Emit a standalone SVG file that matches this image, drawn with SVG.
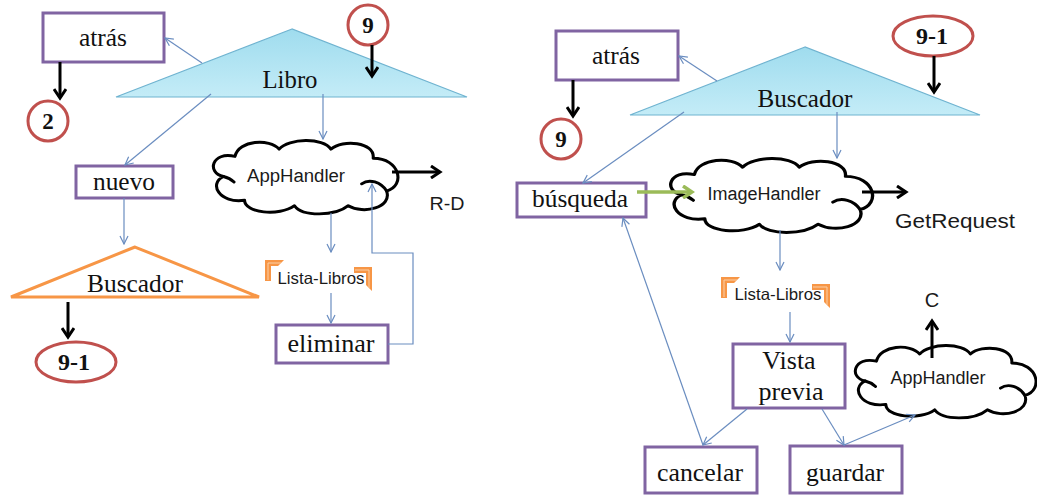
<svg xmlns="http://www.w3.org/2000/svg" width="1037" height="495" viewBox="0 0 1037 495">
  <defs>
    <style>
      .box { fill: #ffffff; stroke: #8064a2; stroke-width: 3; }
      .ring { fill: #ffffff; stroke: #c0504d; stroke-width: 3; }
      .tri { fill: url(#triFill); stroke: #6fb3d0; stroke-width: 1.2; }
      .tri-o { fill: #ffffff; stroke: #f79646; stroke-width: 3; stroke-linejoin: miter; }
      .cloud { fill: #ffffff; stroke: #000000; stroke-width: 3.2; stroke-linejoin: round; }
      .curl { fill: none; stroke: #000000; stroke-width: 3.2; stroke-linecap: round; }
      .br { fill: #f79646; }
      .br-line { fill: none; stroke: #fbd0a8; stroke-width: 1; }
      .thin { fill: none; stroke: #6a8dc0; stroke-width: 1.2; marker-end: url(#ah-thin); }
      .bold { fill: none; stroke: #000000; stroke-width: 3; marker-end: url(#ah-bold); }
      .green { fill: none; stroke: #9bbb59; stroke-width: 3.5; marker-end: url(#ah-green); }
      .serif { font-family: "Liberation Serif", "Times New Roman", serif; font-size: 26px; fill: #111111; text-anchor: middle; }
      .num { font-family: "Liberation Serif", "Times New Roman", serif; font-size: 23px; font-weight: bold; fill: #111111; text-anchor: middle; }
      .sans { font-family: "Liberation Sans", Arial, sans-serif; fill: #1a1a1a; text-anchor: middle; }
    </style>
    <linearGradient id="triFill" x1="0" y1="0" x2="0" y2="1">
      <stop offset="0" stop-color="#9fdcee"/>
      <stop offset="1" stop-color="#c4ecf7"/>
    </linearGradient>
    <marker id="ah-thin" viewBox="0 0 10 10" refX="9" refY="5" markerWidth="10" markerHeight="10" markerUnits="userSpaceOnUse" orient="auto">
      <path d="M1,1 L9,5 L1,9" fill="none" stroke="#6a8dc0" stroke-width="1.2"/>
    </marker>
    <marker id="ah-bold" viewBox="0 0 14 14" refX="11" refY="7" markerWidth="14" markerHeight="14" markerUnits="userSpaceOnUse" orient="auto">
      <path d="M2,1 L11,7 L2,13" fill="none" stroke="#000000" stroke-width="3"/>
    </marker>
    <marker id="ah-green" viewBox="0 0 14 14" refX="11" refY="7" markerWidth="14" markerHeight="14" markerUnits="userSpaceOnUse" orient="auto">
      <path d="M2,1 L11,7 L2,13" fill="none" stroke="#9bbb59" stroke-width="3.5"/>
    </marker>
    <!-- cloud outline in a 200 x 80 unit box -->
    <path id="cloudShape" d="M14,40 C-4,36 2,12 26,18 C30,0 62,-2 72,10 C82,-2 118,-3 126,10 C138,-1 172,2 170,20 C198,20 204,50 184,56 C190,74 160,82 144,72 C130,84 96,84 88,72 C72,84 36,80 36,66 C10,70 -2,48 14,40 Z"/>
    <path id="cloudCurls" d="M14,40 C18,41 22,43 25,46 M158,48 C166,42 178,46 184,56"/>
    <!-- orange corner brackets -->
    <g id="brTL">
      <polygon class="br" points="0,21 0,0 19,0 13,6 6,6 6,21"/>
      <polyline class="br-line" points="3,20 3,3 16,3"/>
    </g>
    <g id="brBR">
      <polygon class="br" points="0,0 18,0 18,24 12,18 12,6 0,6"/>
      <polyline class="br-line" points="1,3 15,3 15,21"/>
    </g>
  </defs>

  <rect width="1037" height="495" fill="#ffffff"/>

  <!-- ===== left flow: Libro ===== -->
  <g id="atras-1">
    <rect class="box" x="43" y="13" width="121" height="49"/>
    <text class="serif" x="103" y="46" textLength="48" lengthAdjust="spacingAndGlyphs">atrás</text>
  </g>
  <g id="ref-9-top">
    <circle class="ring" cx="368" cy="25" r="20"/>
    <text class="num" x="368" y="33">9</text>
  </g>
  <g id="libro">
    <polygon class="tri" points="292,29 116,97 467,97"/>
    <text class="serif" x="290" y="88" textLength="55" lengthAdjust="spacingAndGlyphs">Libro</text>
  </g>
  <g id="ref-2">
    <circle class="ring" cx="48" cy="121" r="20"/>
    <text class="num" x="48" y="129">2</text>
  </g>
  <g id="nuevo">
    <rect class="box" x="76" y="166" width="97" height="32"/>
    <text class="serif" x="124" y="190" textLength="62" lengthAdjust="spacingAndGlyphs">nuevo</text>
  </g>
  <g id="apphandler-1">
    <g transform="translate(210,140) scale(0.96,0.9125)">
      <use href="#cloudShape" class="cloud"/>
      <use href="#cloudCurls" class="curl"/>
    </g>
    <text class="sans" x="296" y="182" font-size="18" textLength="98" lengthAdjust="spacingAndGlyphs">AppHandler</text>
  </g>
  <g id="rd-label">
    <text class="sans" x="447" y="210" font-size="19" textLength="35" lengthAdjust="spacingAndGlyphs">R-D</text>
  </g>
  <g id="buscador-1">
    <polygon class="tri-o" points="135,247 11,297 259,297"/>
    <text class="serif" x="135" y="292" textLength="96" lengthAdjust="spacingAndGlyphs">Buscador</text>
  </g>
  <g id="lista-1">
    <text class="sans" x="321" y="284" font-size="16.5" textLength="87" lengthAdjust="spacingAndGlyphs">Lista-Libros</text>
    <use href="#brTL" transform="translate(265,260)"/>
    <use href="#brBR" transform="translate(354,267)"/>
  </g>
  <g id="eliminar">
    <rect class="box" x="276" y="325" width="112" height="38"/>
    <text class="serif" x="331" y="352" textLength="87" lengthAdjust="spacingAndGlyphs">eliminar</text>
  </g>
  <g id="ref-9-1-bottom">
    <ellipse class="ring" cx="76" cy="362" rx="40" ry="20"/>
    <text class="num" x="74" y="370" textLength="32" lengthAdjust="spacingAndGlyphs">9-1</text>
  </g>

  <!-- ===== right flow: Buscador ===== -->
  <g id="atras-2">
    <rect class="box" x="556" y="31" width="122" height="49"/>
    <text class="serif" x="616" y="64" textLength="48" lengthAdjust="spacingAndGlyphs">atrás</text>
  </g>
  <g id="ref-9-left">
    <circle class="ring" cx="561" cy="139" r="20"/>
    <text class="num" x="561" y="147">9</text>
  </g>
  <g id="ref-9-1-top">
    <ellipse class="ring" cx="933" cy="36" rx="40" ry="20"/>
    <text class="num" x="932" y="44" textLength="32" lengthAdjust="spacingAndGlyphs">9-1</text>
  </g>
  <g id="buscador-2">
    <polygon class="tri" points="805,47 630,115 980,115"/>
    <text class="serif" x="805" y="107" textLength="95" lengthAdjust="spacingAndGlyphs">Buscador</text>
  </g>
  <g id="busqueda">
    <rect class="box" x="517" y="183" width="129" height="34"/>
    <text class="serif" x="580" y="207" textLength="96" lengthAdjust="spacingAndGlyphs">búsqueda</text>
  </g>
  <g id="imagehandler">
    <g transform="translate(667,158) scale(1.05,0.92)">
      <use href="#cloudShape" class="cloud"/>
      <use href="#cloudCurls" class="curl"/>
    </g>
    <text class="sans" x="764" y="200" font-size="18" textLength="113" lengthAdjust="spacingAndGlyphs">ImageHandler</text>
  </g>
  <g id="getrequest-label">
    <text class="sans" x="955" y="228" font-size="20" textLength="120" lengthAdjust="spacingAndGlyphs">GetRequest</text>
  </g>
  <g id="lista-2">
    <text class="sans" x="778" y="300" font-size="16.5" textLength="87" lengthAdjust="spacingAndGlyphs">Lista-Libros</text>
    <use href="#brTL" transform="translate(721,277)"/>
    <use href="#brBR" transform="translate(812,284)"/>
  </g>
  <g id="vista-previa">
    <rect class="box" x="733" y="344" width="112" height="64"/>
    <text class="serif" x="789" y="369">Vista</text>
    <text class="serif" x="791" y="400">previa</text>
  </g>
  <g id="apphandler-2">
    <g transform="translate(852,345) scale(0.94,0.9)">
      <use href="#cloudShape" class="cloud"/>
      <use href="#cloudCurls" class="curl"/>
    </g>
    <text class="sans" x="938" y="384" font-size="18" textLength="95" lengthAdjust="spacingAndGlyphs">AppHandler</text>
  </g>
  <g id="c-label">
    <text class="sans" x="932" y="307" font-size="20">C</text>
  </g>
  <g id="cancelar">
    <rect class="box" x="645" y="447" width="112" height="46"/>
    <text class="serif" x="700" y="481" textLength="86" lengthAdjust="spacingAndGlyphs">cancelar</text>
  </g>
  <g id="guardar">
    <rect class="box" x="790" y="446" width="112" height="47"/>
    <text class="serif" x="845" y="481" textLength="78" lengthAdjust="spacingAndGlyphs">guardar</text>
  </g>

  <!-- ===== connectors ===== -->
  <g id="connectors">
    <!-- left flow -->
    <line class="thin" x1="202" y1="63" x2="165" y2="38"/>
    <line class="thin" x1="211" y1="94" x2="125" y2="165"/>
    <line class="thin" x1="323" y1="94" x2="323" y2="139"/>
    <line class="thin" x1="124" y1="198" x2="124" y2="244"/>
    <line class="thin" x1="331" y1="213" x2="331" y2="252"/>
    <line class="thin" x1="331" y1="293" x2="331" y2="323"/>
    <polyline class="thin" points="388,344 413,344 413,253 372,253 372,184"/>
    <line class="bold" x1="372" y1="45" x2="372" y2="76"/>
    <line class="bold" x1="60" y1="62" x2="60" y2="98"/>
    <line class="bold" x1="392" y1="172" x2="440" y2="172"/>
    <line class="bold" x1="68" y1="302" x2="68" y2="337"/>
    <!-- right flow -->
    <line class="thin" x1="717" y1="81" x2="679" y2="56"/>
    <line class="thin" x1="684" y1="112" x2="583" y2="183"/>
    <line class="thin" x1="837" y1="112" x2="837" y2="158"/>
    <line class="thin" x1="780" y1="230" x2="780" y2="270"/>
    <line class="thin" x1="790" y1="312" x2="790" y2="342"/>
    <line class="thin" x1="747" y1="409" x2="703" y2="445"/>
    <line class="thin" x1="703" y1="445" x2="623" y2="218"/>
    <line class="thin" x1="822" y1="409" x2="844" y2="445"/>
    <line class="thin" x1="844" y1="445" x2="915" y2="415"/>
    <line class="bold" x1="573" y1="80" x2="573" y2="116"/>
    <line class="bold" x1="934" y1="56" x2="934" y2="92"/>
    <line class="bold" x1="862" y1="192" x2="906" y2="192"/>
    <line class="bold" x1="932" y1="358" x2="932" y2="321"/>
    <line class="green" x1="637" y1="192" x2="692" y2="192"/>
  </g>
</svg>
